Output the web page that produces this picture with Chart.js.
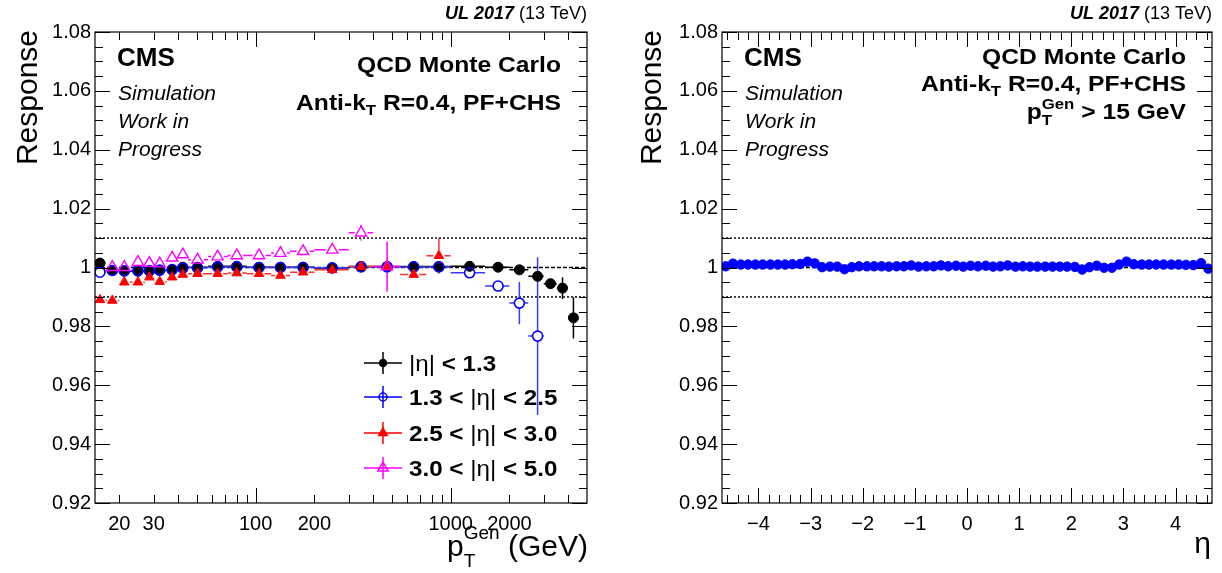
<!DOCTYPE html>
<html>
<head>
<meta charset="utf-8">
<script src="https://cdn.jsdelivr.net/npm/chart.js@4.4.1/dist/chart.umd.min.js"></script>
<style>
html, body { margin: 0; padding: 0; background: #fff; }
#wrap { display: flex; width: 1222px; height: 573px; }
.panel { width: 611px; height: 573px; }
</style>
</head>
<body>
<div id="wrap">
  <div class="panel"><canvas id="ptChart" width="611" height="573"></canvas></div>
  <div class="panel"><canvas id="etaChart" width="611" height="573"></canvas></div>
</div>
<script>
// ---- data ----
const ptEdges = [15, 17, 20, 23, 27, 30, 35, 40, 45, 57, 72, 90, 120, 150, 200, 300, 400, 550, 750, 1000, 1500, 2000, 2500, 3000, 3500, 4000, 4500];
const ptMean = [15.9, 18.4, 21.2, 24.9, 28.5, 32.2, 37.3, 42.3, 50.3, 63.8, 80, 104, 134, 175, 247, 347, 472, 646, 870, 1250, 1750, 2250, 2790, 3250, 3745, 4260];

const respBarrel = [1.0015, 0.9990, 0.9987, 0.9987, 0.9987, 0.9990, 0.9992, 1.0001, 1.0001, 1.0004, 1.0004, 1.0001, 1.0001, 1.0001, 0.9998, 1.0003, 1.0003, 1.0003, 1.0003, 1.0004, 1.0001, 0.9992, 0.9970, 0.9945, 0.9930, 0.9829];
const errBarrel  = [0.0004, 0.0003, 0.0003, 0.0003, 0.0003, 0.0003, 0.0003, 0.0003, 0.0003, 0.0003, 0.0003, 0.0003, 0.0003, 0.0003, 0.0003, 0.0003, 0.0003, 0.0003, 0.0003, 0.0003, 0.0004, 0.0006, 0.0010, 0.0012, 0.0037, 0.0070];

const respEndcap = [0.9984, 0.9990, 0.9989, 0.9990, 0.9990, 0.9991, 0.9993, 0.9998, 0.9999, 1.0002, 1.0002, 1.0000, 1.0000, 1.0000, 0.9999, 1.0002, 1.0002, 1.0002, 1.0002, 0.9982, 0.9937, 0.9879, 0.9767];
const errEndcap  = [0.0004, 0.0004, 0.0004, 0.0004, 0.0004, 0.0004, 0.0004, 0.0004, 0.0004, 0.0004, 0.0004, 0.0004, 0.0004, 0.0004, 0.0004, 0.0004, 0.0005, 0.0005, 0.0006, 0.0008, 0.0012, 0.0072, 0.0268];

const respTrans = [0.9890, 0.9888, 0.9950, 0.9950, 0.9967, 0.9952, 0.9967, 0.9976, 0.9979, 0.9979, 0.9981, 0.9979, 0.9973, 0.9984, 0.9992, 1.0003, 1.0003, 0.9976, 1.0040];
const errTrans  = [0.0012, 0.0006, 0.0006, 0.0005, 0.0005, 0.0005, 0.0005, 0.0005, 0.0005, 0.0005, 0.0005, 0.0005, 0.0005, 0.0005, 0.0005, 0.0006, 0.0008, 0.0010, 0.0061];

const respForward = [null, 1.0001, 1.0001, 1.0018, 1.0015, 1.0013, 1.0033, 1.0044, 1.0026, 1.0037, 1.0041, 1.0041, 1.0049, 1.0055, 1.0060, 1.0118, 1.0003];
const errForward  = [null, 0.0005, 0.0005, 0.0005, 0.0005, 0.0005, 0.0005, 0.0005, 0.0005, 0.0005, 0.0005, 0.0005, 0.0005, 0.0006, 0.0008, 0.0026, 0.0085];

const etaCenters = [-4.63, -4.49, -4.34, -4.20, -4.06, -3.92, -3.77, -3.63, -3.49, -3.35, -3.20, -3.06, -2.92, -2.78, -2.63, -2.49, -2.35, -2.21, -2.07, -1.92, -1.78, -1.64, -1.50, -1.35, -1.21, -1.07, -0.93, -0.78, -0.64, -0.50, -0.36, -0.21, -0.07,
                    0.07, 0.21, 0.36, 0.50, 0.64, 0.78, 0.93, 1.07, 1.21, 1.35, 1.50, 1.64, 1.78, 1.92, 2.07, 2.21, 2.35, 2.49, 2.63, 2.78, 2.92, 3.06, 3.20, 3.35, 3.49, 3.63, 3.77, 3.92, 4.06, 4.20, 4.34, 4.49, 4.63];
const respEta = [1.0004, 1.0013, 1.0010, 1.0010, 1.0010, 1.0010, 1.0010, 1.0010, 1.0010, 1.0011, 1.0012, 1.0020, 1.0014, 1.0001, 1.0003, 1.0003, 0.9994, 1.0001, 1.0004, 1.0004, 1.0004, 1.0004, 1.0003, 1.0004, 1.0004, 1.0007, 1.0003, 1.0004, 1.0004, 1.0007, 1.0004, 1.0006, 1.0003,
                 1.0006, 1.0004, 1.0006, 1.0003, 1.0004, 1.0007, 1.0003, 1.0004, 1.0003, 1.0003, 1.0003, 1.0003, 1.0003, 1.0003, 1.0002, 0.9993, 1.0001, 1.0006, 0.9999, 0.9999, 1.0010, 1.0020, 1.0011, 1.0010, 1.0010, 1.0010, 1.0010, 1.0010, 1.0010, 1.0009, 1.0008, 1.0015, 0.9996];

const yTickValues = [0.92, 0.94, 0.96, 0.98, 1.00, 1.02, 1.04, 1.06, 1.08];
const ptTickValues = [20, 30, 100, 200, 1000, 2000];
const etaTickValues = [-4, -3, -2, -1, 0, 1, 2, 3, 4];
const refLines = [0.99, 1.0, 1.01];

const legendLabels = [
  [{ t: '|η|', b: false }, { t: ' < 1.3', b: true }],
  [{ t: '1.3 < ', b: true }, { t: '|η|', b: false }, { t: ' < 2.5', b: true }],
  [{ t: '2.5 < ', b: true }, { t: '|η|', b: false }, { t: ' < 3.0', b: true }],
  [{ t: '3.0 < ', b: true }, { t: '|η|', b: false }, { t: ' < 5.0', b: true }]
];

const FAM = '"Liberation Sans", Arial, Helvetica, sans-serif';
function f(style, size) { return (style ? style + ' ' : '') + size + 'px ' + FAM; }

function withErrors(resp, err) {
  const out = [];
  resp.forEach((y, i) => {
    if (y == null) return;
    out.push({ x: ptMean[i], y: y, yErr: err[i], xLo: ptEdges[i], xHi: ptEdges[i + 1] });
  });
  return out;
}

// draws text pieces one after another; run.keep = do not advance (for sub/superscripts)
// sx widens the text a little, ROOT's bold Helvetica runs wider than Liberation
function drawRuns(ctx, runs, x, y, align, sx) {
  sx = sx || 1;
  let w = 0, cx = 0;
  runs.forEach(r => {
    ctx.font = r.f;
    const rw = ctx.measureText(r.t).width;
    if (!r.keep) cx += rw; else w = Math.max(w, cx + rw);
  });
  w = Math.max(w, cx);
  ctx.save();
  ctx.translate(x, y);
  ctx.scale(sx, 1);
  ctx.textAlign = 'left';
  ctx.textBaseline = 'alphabetic';
  ctx.fillStyle = '#000';
  let px = align === 'right' ? -w : 0;
  runs.forEach(r => {
    ctx.font = r.f;
    ctx.fillText(r.t, px, r.dy || 0);
    if (!r.keep) px += ctx.measureText(r.t).width;
  });
  ctx.restore();
}

function drawMarker(ctx, style, x, y, r, color, filled, lw) {
  ctx.save();
  ctx.beginPath();
  if (style === 'circle') {
    ctx.arc(x, y, r, 0, Math.PI * 2);
  } else {
    ctx.moveTo(x, y - r);
    ctx.lineTo(x + r * 0.866, y + r * 0.5);
    ctx.lineTo(x - r * 0.866, y + r * 0.5);
    ctx.closePath();
  }
  if (filled) { ctx.fillStyle = color; ctx.fill(); }
  ctx.strokeStyle = color;
  ctx.lineWidth = lw || 1;
  ctx.stroke();
  ctx.restore();
}

function drawYTitle(ctx, text, xBase, yTop) {
  ctx.save();
  ctx.translate(xBase, yTop);
  ctx.rotate(-Math.PI / 2);
  ctx.font = f('', 30);
  ctx.textAlign = 'right';
  ctx.textBaseline = 'alphabetic';
  ctx.fillStyle = '#000';
  ctx.fillText(text, 0, 0);
  ctx.restore();
}

function makeRootPlugin(cfg) {
  return {
    id: 'rootStyle_' + cfg.name,
    beforeDatasetsDraw(chart) {
      const ctx = chart.ctx, a = chart.chartArea;
      const xs = chart.scales.x, ys = chart.scales.y;
      ctx.save();
      ctx.beginPath();
      ctx.rect(a.left, a.top, a.right - a.left, a.bottom - a.top);
      ctx.clip();
      // reference lines
      refLines.forEach(v => {
        const py = ys.getPixelForValue(v);
        ctx.beginPath();
        ctx.strokeStyle = v === 1 ? '#000' : '#333';
        ctx.lineWidth = v === 1 ? 1.6 : 1.8;
        ctx.setLineDash(v === 1 ? [4, 2] : [2, 2]);
        ctx.moveTo(a.left, py);
        ctx.lineTo(a.right, py);
        ctx.stroke();
      });
      ctx.setLineDash([]);
      // error bars
      chart.data.datasets.forEach(ds => {
        if (!ds.errColor) return;
        const gap = ds.pointRadius;
        ctx.strokeStyle = ds.errColor;
        ctx.lineWidth = 1.5;
        ds.data.forEach(p => {
          const px = xs.getPixelForValue(p.x), py = ys.getPixelForValue(p.y);
          ctx.beginPath();
          if (p.xLo != null) {
            const l = xs.getPixelForValue(p.xLo), r = xs.getPixelForValue(p.xHi);
            if (px - gap > l) { ctx.moveTo(l, py); ctx.lineTo(px - gap, py); }
            if (r > px + gap) { ctx.moveTo(px + gap, py); ctx.lineTo(r, py); }
          }
          if (p.yErr) {
            const t = ys.getPixelForValue(p.y + p.yErr), b = ys.getPixelForValue(p.y - p.yErr);
            if (py - gap > t) { ctx.moveTo(px, t); ctx.lineTo(px, py - gap); }
            if (b > py + gap) { ctx.moveTo(px, py + gap); ctx.lineTo(px, b); }
          }
          ctx.stroke();
        });
      });
      ctx.restore();
    },
    afterDraw(chart) {
      const ctx = chart.ctx, a = chart.chartArea;
      const xs = chart.scales.x, ys = chart.scales.y;
      ctx.save();
      // frame
      ctx.strokeStyle = '#000';
      ctx.lineWidth = 1.2;
      ctx.strokeRect(a.left, a.top, a.right - a.left, a.bottom - a.top);
      // y ticks, both sides
      ctx.lineWidth = 1;
      ctx.beginPath();
      for (let k = 0; k <= 32; k++) {
        const v = 0.92 + k * 0.005;
        const py = Math.round(ys.getPixelForValue(v)) + 0.5;
        const len = k % 4 === 0 ? 15 : 8;
        ctx.moveTo(a.left, py); ctx.lineTo(a.left + len, py);
        ctx.moveTo(a.right, py); ctx.lineTo(a.right - len, py);
      }
      // x ticks, top and bottom
      cfg.xTicks(xs).forEach(t => {
        const px = Math.round(xs.getPixelForValue(t.v)) + 0.5;
        const len = t.major ? 15 : 8;
        ctx.moveTo(px, a.bottom); ctx.lineTo(px, a.bottom - len);
        ctx.moveTo(px, a.top); ctx.lineTo(px, a.top + len);
      });
      ctx.stroke();
      ctx.restore();

      // texts
      drawRuns(ctx, [{ t: 'UL 2017', f: f('italic bold', 18) }, { t: ' (13 TeV)', f: f('', 18) }], a.right, 19, 'right');
      drawRuns(ctx, [{ t: 'CMS', f: f('bold', 26) }], a.left + 22, 66, 'left');
      drawRuns(ctx, [{ t: 'Simulation', f: f('italic', 20) }], a.left + 23, 100, 'left', 1.05);
      drawRuns(ctx, [{ t: 'Work in', f: f('italic', 20) }], a.left + 23, 128, 'left', 1.05);
      drawRuns(ctx, [{ t: 'Progress', f: f('italic', 20) }], a.left + 23, 156, 'left', 1.05);
      const tr = a.right - 26;
      drawRuns(ctx, [{ t: 'QCD Monte Carlo', f: f('bold', 22) }], tr, cfg.infoY[0], 'right', 1.12);
      drawRuns(ctx, [
        { t: 'Anti-k', f: f('bold', 22) },
        { t: 'T', f: f('bold', 15), dy: 5 },
        { t: ' R=0.4, PF+CHS', f: f('bold', 22) }
      ], tr, cfg.infoY[1], 'right', 1.12);
      if (cfg.infoY[2]) {
        drawRuns(ctx, [
          { t: 'p', f: f('bold', 22) },
          { t: 'T', f: f('bold', 15), dy: 6, keep: true },
          { t: 'Gen', f: f('bold', 15), dy: -10 },
          { t: ' > 15 GeV', f: f('bold', 22) }
        ], tr, cfg.infoY[2], 'right', 1.12);
      }
      drawYTitle(ctx, 'Response', cfg.yTitleX, 30);
      cfg.xTitle(ctx, a);
      if (cfg.legend) cfg.legend(ctx, a);
    }
  };
}

const legendStyles = [
  { style: 'circle', color: '#000', filled: true, r: 3.5 },
  { style: 'circle', color: '#0000ff', filled: false, r: 4 },
  { style: 'triangle', color: '#ff0000', filled: true, r: 5 },
  { style: 'triangle', color: '#ff00ff', filled: false, r: 6 }
];
const legendRowY = [363, 397, 433, 468];

function drawPtLegend(ctx) {
  legendLabels.forEach((runs, i) => {
    const s = legendStyles[i], y = legendRowY[i], x = 383;
    ctx.save();
    ctx.strokeStyle = s.color;
    ctx.lineWidth = 1.5;
    ctx.beginPath();
    ctx.moveTo(364, y); ctx.lineTo(402, y);
    ctx.moveTo(x, y - 11); ctx.lineTo(x, y + 11);
    ctx.stroke();
    ctx.restore();
    drawMarker(ctx, s.style, x, y, s.r, s.color, s.filled, 1.5);
    drawRuns(ctx, runs.map(r => ({ t: r.t, f: f(r.b ? 'bold' : '', 22) })), 409, y + 8, 'left', 1.1);
  });
}

function yAxisCfg(width) {
  return {
    type: 'linear', min: 0.92, max: 1.08,
    afterBuildTicks: s => { s.ticks = yTickValues.map(v => ({ value: v })); },
    afterFit: s => { s.width = width; },
    grid: { display: false, drawTicks: false },
    border: { display: false },
    ticks: {
      color: '#000', padding: 4, font: { family: FAM, size: 20 },
      callback: v => { const r = Math.round(v * 100) / 100; return r === 1 ? '1' : r.toFixed(2); }
    }
  };
}

// ---- left: response vs pT ----
new Chart(document.getElementById('ptChart'), {
  type: 'scatter',
  data: {
    datasets: [
      { label: '|η| < 1.3', data: withErrors(respBarrel, errBarrel), pointStyle: 'circle', pointRadius: 5, backgroundColor: '#000', borderColor: '#000', borderWidth: 1, errColor: '#000', order: 4 },
      { label: '1.3 < |η| < 2.5', data: withErrors(respEndcap, errEndcap), pointStyle: 'circle', pointRadius: 5, backgroundColor: 'rgba(0,0,0,0)', borderColor: '#0000ff', borderWidth: 1.6, errColor: '#3a3aff', order: 3 },
      { label: '2.5 < |η| < 3.0', data: withErrors(respTrans, errTrans), pointStyle: 'triangle', pointRadius: 5.5, backgroundColor: '#ff0000', borderColor: '#ff0000', borderWidth: 1, errColor: '#ff3030', order: 2 },
      { label: '3.0 < |η| < 5.0', data: withErrors(respForward, errForward), pointStyle: 'triangle', pointRadius: 6.5, backgroundColor: 'rgba(0,0,0,0)', borderColor: '#ff00ff', borderWidth: 1.4, errColor: '#ff00ff', order: 1 }
    ]
  },
  options: {
    responsive: false, animation: false, devicePixelRatio: 1,
    layout: { padding: { top: 32, right: 24, left: 0, bottom: 0 } },
    plugins: { legend: { display: false }, tooltip: { enabled: false } },
    scales: {
      x: {
        type: 'logarithmic', min: 15, max: 5000,
        afterBuildTicks: s => { s.ticks = ptTickValues.map(v => ({ value: v })); },
        afterFit: s => { s.height = 70; },
        grid: { display: false, drawTicks: false },
        border: { display: false },
        ticks: { color: '#000', padding: 9, autoSkip: false, maxRotation: 0, font: { family: FAM, size: 20 }, callback: v => String(v) }
      },
      y: yAxisCfg(95)
    }
  },
  plugins: [makeRootPlugin({
    name: 'pt',
    infoY: [72, 110, null],
    yTitleX: 37,
    xTicks: () => {
      const out = [];
      [10, 100, 1000].forEach(d => {
        for (let m = 1; m <= 9; m++) {
          const v = m * d;
          if (v > 15 && v < 5000) out.push({ v: v, major: m === 1 });
        }
      });
      return out;
    },
    xTitle: (ctx, a) => {
      drawRuns(ctx, [
        { t: 'p', f: f('', 30) },
        { t: 'T', f: f('', 19), dy: 11, keep: true },
        { t: 'Gen', f: f('', 19), dy: -17 },
        { t: ' (GeV)', f: f('', 30) }
      ], a.right + 1, 556, 'right');
    },
    legend: drawPtLegend
  })]
});

// ---- right: response vs eta ----
new Chart(document.getElementById('etaChart'), {
  type: 'scatter',
  data: {
    datasets: [
      { label: 'response', data: etaCenters.map((x, i) => ({ x: x, y: respEta[i] })), pointStyle: 'circle', pointRadius: 4.7, backgroundColor: '#0000ff', borderColor: '#0000ff', borderWidth: 1 }
    ]
  },
  options: {
    responsive: false, animation: false, devicePixelRatio: 1,
    layout: { padding: { top: 32, right: 10, left: 0, bottom: 0 } },
    plugins: { legend: { display: false }, tooltip: { enabled: false } },
    scales: {
      x: {
        type: 'linear', min: -4.7, max: 4.7,
        afterBuildTicks: s => { s.ticks = etaTickValues.map(v => ({ value: v })); },
        afterFit: s => { s.height = 70; },
        grid: { display: false, drawTicks: false },
        border: { display: false },
        ticks: { color: '#000', padding: 9, autoSkip: false, maxRotation: 0, font: { family: FAM, size: 20 }, callback: v => (v < 0 ? '\u2212' + Math.abs(v) : String(v)) }
      },
      y: yAxisCfg(111)
    }
  },
  plugins: [makeRootPlugin({
    name: 'eta',
    infoY: [64, 91, 119],
    yTitleX: 50,
    xTicks: () => {
      const out = [];
      for (let k = -46; k <= 46; k += 2) out.push({ v: k / 10, major: k % 10 === 0 });
      return out;
    },
    xTitle: (ctx, a) => {
      drawRuns(ctx, [{ t: 'η', f: f('', 30) }], a.right - 1, 553, 'right');
    },
    legend: null
  })]
});
</script>
</body>
</html>
